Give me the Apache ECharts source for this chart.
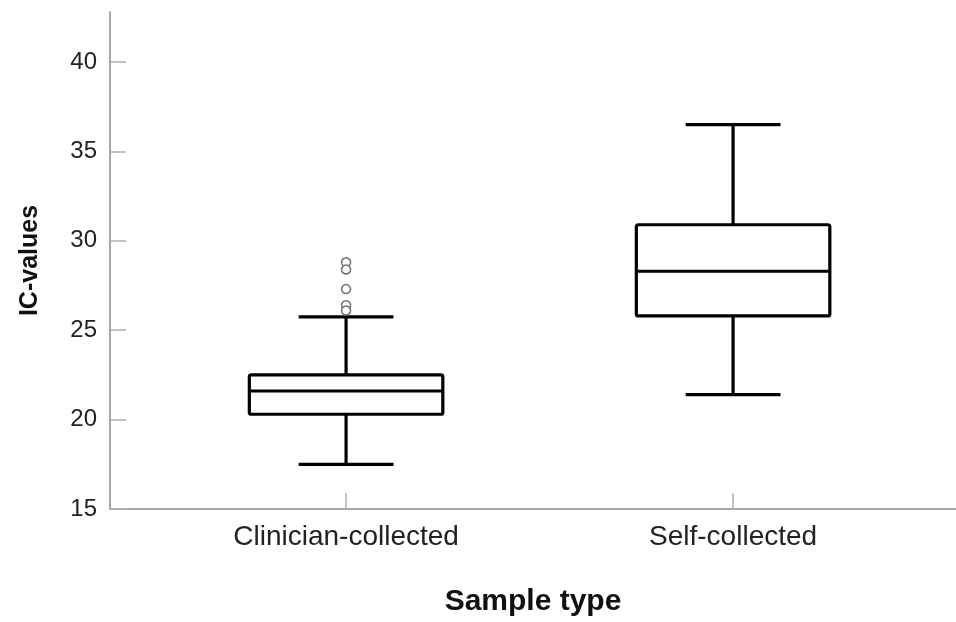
<!DOCTYPE html>
<html>
<head>
<meta charset="utf-8">
<script src="https://cdn.jsdelivr.net/npm/echarts@6/dist/echarts.min.js"></script>
<style>
html,body{margin:0;padding:0;background:#ffffff;}
#chart{width:956px;height:622px;}
</style>
</head>
<body>
<div id="chart"></div>
<script>
// ---- data ----
const categories = ['Clinician-collected', 'Self-collected'];
const lowerWhisker = [17.5, 21.4];
const q1 = [20.3, 25.8];
const median = [21.6, 28.3];
const q3 = [22.5, 30.9];
const upperWhisker = [25.75, 36.5];
const outlierCategory = [0, 0, 0, 0, 0];
const outlierValues = [28.8, 28.4, 27.3, 26.4, 26.1];
const yTicks = [15, 20, 25, 30, 35, 40];

// ---- build ----
const boxData = categories.map((c, i) => [i, lowerWhisker[i], q1[i], median[i], q3[i], upperWhisker[i]]);
const outlierData = outlierValues.map((v, i) => [outlierCategory[i], v]);

const BOX_W = 0.5;
const CAP_W = 0.245;
const LINE = {stroke: '#000', lineWidth: 3.2, lineCap: 'butt'};

function renderBox(params, api) {
  const x = api.value(0);
  const pLo = api.coord([x, api.value(1)]);
  const pQ1 = api.coord([x, api.value(2)]);
  const pMed = api.coord([x, api.value(3)]);
  const pQ3 = api.coord([x, api.value(4)]);
  const pHi = api.coord([x, api.value(5)]);
  const hb = api.size([BOX_W, 0])[0] / 2;
  const hc = api.size([CAP_W, 0])[0] / 2;
  const cx = pMed[0];
  return {
    type: 'group',
    children: [
      {type: 'line', shape: {x1: cx, y1: pHi[1], x2: cx, y2: pQ3[1]}, style: LINE},
      {type: 'line', shape: {x1: cx, y1: pQ1[1], x2: cx, y2: pLo[1]}, style: LINE},
      {type: 'line', shape: {x1: cx - hc, y1: pHi[1], x2: cx + hc, y2: pHi[1]}, style: LINE},
      {type: 'line', shape: {x1: cx - hc, y1: pLo[1], x2: cx + hc, y2: pLo[1]}, style: LINE},
      {type: 'rect', shape: {x: cx - hb, y: pQ3[1], width: 2 * hb, height: pQ1[1] - pQ3[1], r: 2},
        style: {fill: '#fff', stroke: '#000', lineWidth: 3.2, lineJoin: 'round'}},
      {type: 'line', shape: {x1: cx - hb, y1: pMed[1], x2: cx + hb, y2: pMed[1]}, style: LINE}
    ]
  };
}

const chart = echarts.init(document.getElementById('chart'), null, {renderer: 'canvas'});
chart.setOption({
  backgroundColor: '#ffffff',
  animation: false,
  grid: {left: 110, right: 0, top: 12, bottom: 111},
  xAxis: {
    type: 'value',
    min: -0.61,
    max: 1.576,
    splitLine: {show: false},
    axisLine: {show: true, onZero: false, lineStyle: {color: '#a8a8a8', width: 2}},
    axisTick: {show: true, inside: true, length: 16, customValues: [0, 1], lineStyle: {color: '#b0b0b0', width: 1.5}},
    axisLabel: {
      customValues: [0, 1],
      margin: 14,
      fontFamily: 'Liberation Sans, Arial, sans-serif',
      fontSize: 28,
      color: '#222',
      formatter: v => categories[Math.round(v)] || ''
    },
    name: 'Sample type',
    nameLocation: 'middle',
    nameGap: 78,
    nameTextStyle: {fontFamily: 'Liberation Sans, Arial, sans-serif', fontSize: 30, fontWeight: 'bold', color: '#111'}
  },
  yAxis: {
    type: 'value',
    min: 15,
    max: 42.8,
    splitLine: {show: false},
    axisLine: {show: true, onZero: false, lineStyle: {color: '#a8a8a8', width: 2}},
    axisTick: {show: true, inside: true, length: 16, customValues: yTicks, lineStyle: {color: '#b0b0b0', width: 1.5}},
    axisLabel: {
      customValues: yTicks,
      margin: 13,
      fontFamily: 'Liberation Sans, Arial, sans-serif',
      fontSize: 24,
      color: '#222',
      padding: [4, 0, 0, 0]
    },
    name: 'IC-values',
    nameLocation: 'middle',
    nameGap: 67,
    nameRotate: 90,
    nameTextStyle: {fontFamily: 'Liberation Sans, Arial, sans-serif', fontSize: 25, fontWeight: 'bold', color: '#111'}
  },
  series: [
    {
      type: 'custom',
      renderItem: renderBox,
      encode: {x: 0, y: [1, 2, 3, 4, 5]},
      data: boxData,
      z: 2
    },
    {
      type: 'scatter',
      data: outlierData,
      symbol: 'circle',
      symbolSize: 9,
      itemStyle: {color: '#ffffff', borderColor: '#707070', borderWidth: 1.5, opacity: 1},
      z: 3
    }
  ]
});
</script>
</body>
</html>
